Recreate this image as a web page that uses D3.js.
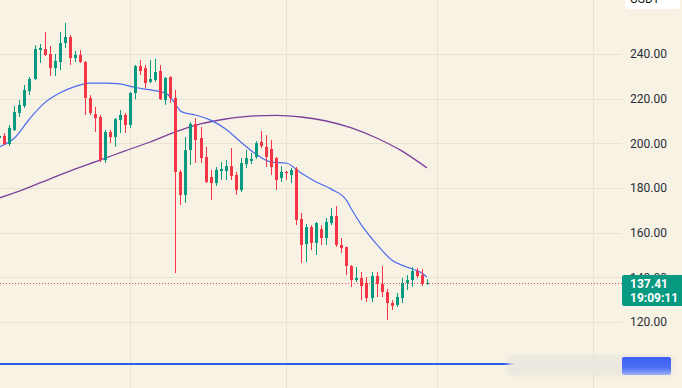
<!DOCTYPE html>
<html lang="en">
<head>
<meta charset="UTF-8">
<script src="https://cdnjs.cloudflare.com/ajax/libs/d3/7.8.5/d3.min.js"></script>
<style>
  html, body { margin: 0; padding: 0; background: #f7f2e3; }
  svg { display: block; }
</style>
</head>
<body>
<div id="chart"></div>
<script>
// daily candles
var opens = [202.4,203.3,199.7,206.0,213.6,216.7,223.4,228.8,241.8,242.2,
    240.0,233.7,236.4,244.9,247.6,238.2,239.6,236.4,220.3,213.1,
    211.8,192.5,205.1,202.8,210.4,212.7,208.2,222.5,234.6,233.7,
    227.5,228.4,232.4,219.4,229.7,220.3,187.2,176.9,197.0,208.7,
    202.4,193.9,184.9,182.2,187.6,187.6,189.8,185.8,179.1,190.7,
    192.1,193.9,200.6,198.4,197.5,193.4,184.5,187.2,185.8,188.5,
    166.1,154.9,162.5,155.4,161.6,157.6,164.3,167.5,154.5,153.6,
    145.1,138.8,139.7,137.5,130.7,140.6,137.0,133.4,128.5,127.6,
    130.7,137.5,138.8,142.8,141.0,137.0];
var highs = [203.7,204.6,208.2,216.7,219.4,226.1,229.7,244.0,244.5,249.9,
    243.6,240.0,249.9,253.9,248.5,241.3,241.8,236.9,221.6,216.3,
    212.7,206.0,206.0,211.3,214.9,213.6,223.0,235.1,237.3,235.1,
    237.3,237.8,235.1,229.7,230.0,223.9,188.1,202.8,209.5,211.3,
    207.3,198.4,188.1,189.4,191.6,192.5,197.9,187.2,193.4,197.0,
    195.7,201.0,205.5,203.7,201.5,193.9,189.8,187.6,189.0,189.4,
    168.8,163.9,163.4,164.8,163.4,166.6,171.0,171.9,157.6,153.6,
    145.5,144.6,142.4,140.1,142.4,142.4,145.1,134.8,129.8,133.0,
    139.7,141.0,144.6,144.2,143.7,139.2];
var lows = [201.9,199.2,198.8,205.5,211.8,215.8,221.6,228.4,236.0,239.1,
    230.1,230.1,232.8,242.7,235.1,236.4,236.0,212.7,212.7,205.1,
    191.6,191.2,200.1,198.4,204.6,204.6,206.9,219.8,230.6,224.8,
    227.0,227.5,219.4,217.2,218.1,141.9,172.4,173.3,190.3,191.2,
    191.2,182.2,174.6,180.9,183.6,183.6,183.6,176.9,178.2,189.0,
    190.7,193.0,197.9,189.4,185.8,179.1,182.7,183.6,182.2,163.4,
    146.4,146.9,152.2,150.0,154.5,154.5,163.4,153.6,150.9,141.0,
    135.7,137.9,129.8,128.9,128.9,131.2,131.2,120.9,125.4,126.7,
    128.5,134.3,135.7,139.7,136.1,136.6];
var closes = [203.3,199.7,206.9,214.0,217.2,223.9,228.8,242.2,242.7,239.6,
    233.7,236.9,244.9,247.6,238.2,239.6,236.4,220.3,213.6,211.3,
    192.5,205.1,202.8,210.9,212.7,208.2,222.5,234.6,232.4,227.0,
    228.8,231.9,219.8,229.3,220.3,187.2,176.9,197.0,208.7,201.5,
    193.4,182.7,182.2,188.1,188.5,189.8,185.4,179.1,191.2,193.4,
    193.0,200.1,198.8,193.9,189.4,183.6,187.2,186.7,188.1,165.7,
    154.5,162.5,155.4,164.3,157.6,164.8,167.5,154.5,153.1,145.1,
    138.8,139.7,136.1,130.7,140.6,137.0,133.4,128.5,127.2,131.2,
    137.5,138.8,142.8,140.6,137.0,137.41];

// moving averages, sampled at some bars
var maFastIdx = [0,3,6,9,12,15,18,21,24,27,30,33,34,35,36,37,39,42,45,48,51,54,57,60,63,66,69,70,72,75,78,81,84,85];
var maFast = [198.4,202.4,210.9,218.1,222.5,225.4,227.0,227.0,226.6,225.0,223.9,222.5,220.8,217.6,214.5,213.6,212.7,210.4,206.4,200.6,195.2,191.6,191.2,186.7,182.7,179.5,174.6,170.6,163.4,154.9,147.8,144.6,141.9,140.1];
var maSlowIdx = [0,5,10,15,20,25,30,35,40,45,50,55,60,65,70,75,80,85];
var maSlow = [175.5,179.5,184.0,188.5,192.5,196.6,200.6,205.1,208.7,210.9,212.2,212.5,211.8,210.0,206.9,202.4,196.6,189.0];

var priceTicks = [120, 140, 160, 180, 200, 220, 240];
var monthStarts = [26, 57, 87, 118];
var lastPrice = 137.41;
var countdown = "19:09:11";

var W = 682, H = 388, plotRight = 622;
var up = "#089981", down = "#f23645";

var svg = d3.select("#chart").append("svg")
    .attr("width", W).attr("height", H)
    .style("font-family", "Roboto, 'Liberation Sans', sans-serif");

svg.append("rect").attr("width", W).attr("height", H).attr("fill", "#f7f2e3");

var x = d3.scaleLinear().domain([0, 123]).range([-0.7, -0.7 + 5.03 * 123]);
var y = d3.scaleLinear().domain([120, 240]).range([322, 54]);

// grid
svg.append("g").selectAll("line").data(priceTicks).enter().append("line")
    .attr("x1", 0).attr("x2", plotRight)
    .attr("y1", function (d) { return Math.round(y(d)) + 0.5; })
    .attr("y2", function (d) { return Math.round(y(d)) + 0.5; })
    .attr("stroke", "#e8e2d2").attr("stroke-width", 1);
svg.append("g").selectAll("line").data(monthStarts).enter().append("line")
    .attr("x1", function (d) { return Math.round(x(d)) + 0.5; })
    .attr("x2", function (d) { return Math.round(x(d)) + 0.5; })
    .attr("y1", 0).attr("y2", H)
    .attr("stroke", "#e8e2d2").attr("stroke-width", 1);

// moving averages
var line = d3.line().curve(d3.curveMonotoneX);
svg.append("path")
    .attr("d", line(maSlowIdx.map(function (d, i) { return [x(d), y(maSlow[i])]; })))
    .attr("fill", "none").attr("stroke", "#7d3f9c").attr("stroke-width", 1.3);
svg.append("path")
    .attr("d", line(maFastIdx.map(function (d, i) { return [x(d), y(maFast[i])]; })))
    .attr("fill", "none").attr("stroke", "#4b6cf0").attr("stroke-width", 1.2);

// candles
var bars = d3.range(opens.length);
var g = svg.append("g");
g.selectAll(".wick").data(bars).enter().append("line")
    .attr("x1", function (i) { return Math.round(x(i)) + 0.5; })
    .attr("x2", function (i) { return Math.round(x(i)) + 0.5; })
    .attr("y1", function (i) { return y(highs[i]); })
    .attr("y2", function (i) { return y(lows[i]); })
    .attr("stroke", function (i) { return closes[i] >= opens[i] ? up : down; })
    .attr("stroke-width", 1);
g.selectAll(".body").data(bars).enter().append("rect")
    .attr("x", function (i) { return Math.round(x(i)) - 1; })
    .attr("width", 3)
    .attr("y", function (i) { return y(Math.max(opens[i], closes[i])); })
    .attr("height", function (i) { return Math.max(1, Math.abs(y(opens[i]) - y(closes[i]))); })
    .attr("fill", function (i) { return closes[i] >= opens[i] ? up : down; });

// last price line
svg.append("line")
    .attr("x1", 0).attr("x2", plotRight)
    .attr("y1", Math.round(y(lastPrice)) + 0.5).attr("y2", Math.round(y(lastPrice)) + 0.5)
    .attr("stroke", "#ee4b5c").attr("stroke-width", 1).attr("stroke-dasharray", "1,2");

// price axis
var axis = d3.axisRight(y).tickValues(priceTicks).tickFormat(d3.format(".2f")).tickSize(0).tickPadding(0);
var ax = svg.append("g").attr("transform", "translate(630,0)").call(axis);
ax.select(".domain").remove();
ax.selectAll("text").attr("font-size", 12).attr("fill", "#2a2e39")
    .style("font-family", "Roboto, 'Liberation Sans', sans-serif");

// last price label
var ly = y(lastPrice);
svg.append("rect").attr("x", 622).attr("y", ly - 8).attr("width", 62).attr("height", 31)
    .attr("rx", 2).attr("fill", up);
svg.append("text").attr("x", 630).attr("y", ly + 4.5).text(d3.format(".2f")(lastPrice))
    .attr("fill", "#ffffff").attr("font-size", 12).attr("font-weight", "bold");
svg.append("text").attr("x", 630).attr("y", ly + 18.5).text(countdown)
    .attr("fill", "#ffffff").attr("font-size", 12).attr("font-weight", "bold");

// currency badge at top
svg.append("rect").attr("x", 625).attr("y", -14).attr("width", 55).attr("height", 23)
    .attr("rx", 4).attr("fill", "#ffffff");
svg.append("text").attr("x", 630).attr("y", 3).text("USDT")
    .attr("fill", "#131722").attr("font-size", 12);

// bottom bar
var defs = svg.append("defs");
defs.append("filter").attr("id", "blur").append("feGaussianBlur").attr("stdDeviation", 2.5);
var grad = defs.append("linearGradient").attr("id", "btn").attr("x1", 0).attr("y1", 0).attr("x2", 0).attr("y2", 1);
grad.append("stop").attr("offset", 0).attr("stop-color", "#3a5ff2");
grad.append("stop").attr("offset", 0.6).attr("stop-color", "#4d6ff5");
grad.append("stop").attr("offset", 1).attr("stop-color", "#9fb2f3");
svg.append("line").attr("x1", 0).attr("x2", 514).attr("y1", 364).attr("y2", 364)
    .attr("stroke", "#2d5bef").attr("stroke-width", 2);
svg.append("rect").attr("x", 509).attr("y", 356).attr("width", 163).attr("height", 19)
    .attr("rx", 2).attr("fill", "#ebe8e0").attr("stroke", "#d8d6d0").attr("stroke-width", 1)
    .attr("opacity", 0.9).attr("filter", "url(#blur)");
svg.append("rect").attr("x", 622).attr("y", 357).attr("width", 49).attr("height", 18)
    .attr("rx", 2).attr("fill", "url(#btn)");
</script>
</body>
</html>
